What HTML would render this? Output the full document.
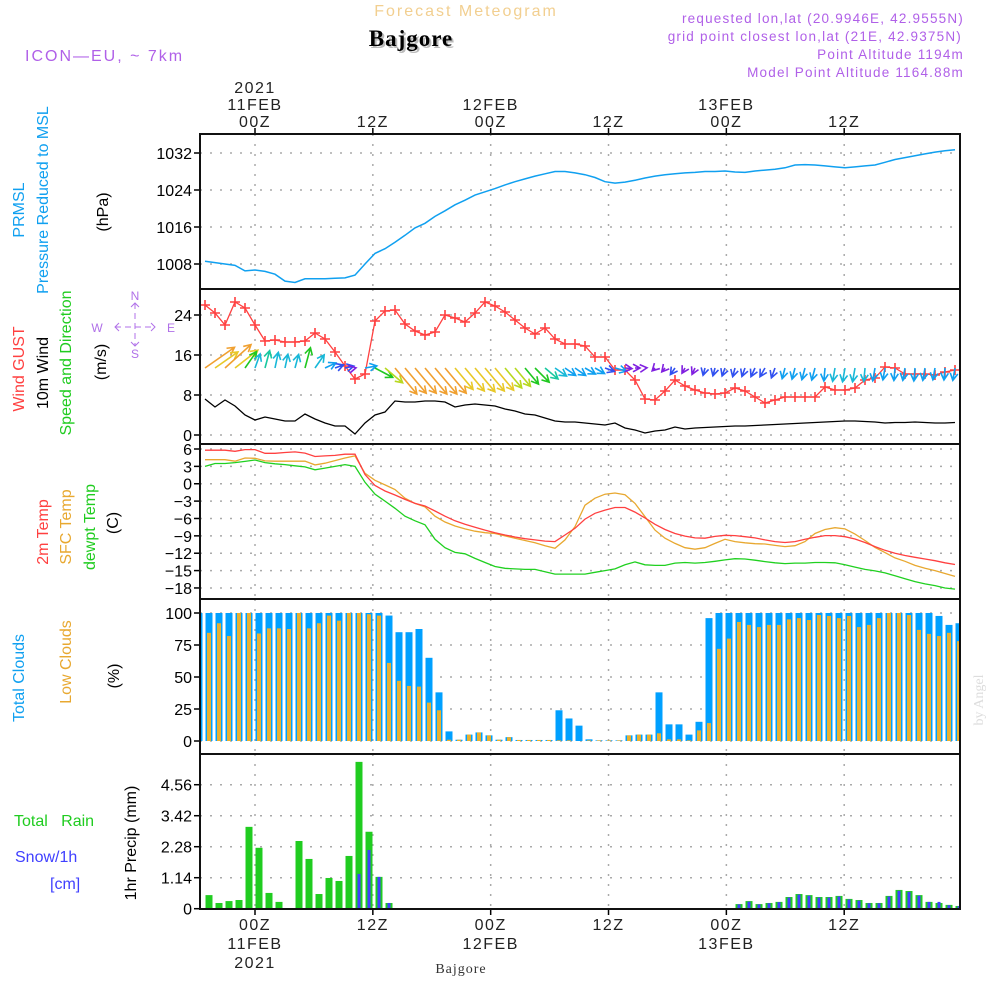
<!DOCTYPE html>
<html><head><meta charset="utf-8"><style>
html,body{margin:0;padding:0;background:#fff;}
svg{display:block;font-family:"Liberation Sans",sans-serif;}
</style></head><body>
<svg id="chart" width="1000" height="1000" viewBox="0 0 1000 1000" xmlns="http://www.w3.org/2000/svg">
<rect width="1000" height="1000" fill="#fff"/>
<text x="466" y="16" text-anchor="middle" font-size="16" fill="#f2cf90" letter-spacing="2">Forecast Meteogram</text>
<text x="413" y="48" text-anchor="middle" font-size="23" font-weight="bold" fill="#bbb" font-family="Liberation Serif,serif" letter-spacing="1">Bajgore</text>
<text x="411" y="46" text-anchor="middle" font-size="23" font-weight="bold" fill="#000" font-family="Liberation Serif,serif" letter-spacing="1">Bajgore</text>
<text x="25" y="61" font-size="16" fill="#b060e8" letter-spacing="2">ICON—EU, ~ 7km</text>
<g font-size="13.5" fill="#b060e8" text-anchor="end" letter-spacing="1.2">
<text x="964" y="23">requested lon,lat (20.9946E, 42.9555N)</text>
<text x="962" y="41">grid point closest lon,lat (21E, 42.9375N)</text>
<text x="964" y="59">Point Altitude 1194m</text>
<text x="964" y="77">Model Point Altitude 1164.88m</text>
</g>
<g id="grid"></g>
<g id="marks"></g>
<g id="frames"></g>
<g id="labels"></g>

<g font-size="16">
<text transform="translate(24,210) rotate(-90)" text-anchor="middle" fill="#10a0f0">PRMSL</text>
<text transform="translate(48,200) rotate(-90)" text-anchor="middle" fill="#10a0f0">Pressure Reduced to MSL</text>
<text transform="translate(108,212) rotate(-90)" text-anchor="middle" fill="#000">(hPa)</text>
<text transform="translate(24,369) rotate(-90)" text-anchor="middle" fill="#ff4040">Wind GUST</text>
<text transform="translate(48,373) rotate(-90)" text-anchor="middle" fill="#000">10m Wind</text>
<text transform="translate(71,363) rotate(-90)" text-anchor="middle" fill="#20cc20">Speed and Direction</text>
<text transform="translate(106,362) rotate(-90)" text-anchor="middle" fill="#000">(m/s)</text>
<text transform="translate(48,532) rotate(-90)" text-anchor="middle" fill="#ff4040">2m Temp</text>
<text transform="translate(71,527) rotate(-90)" text-anchor="middle" fill="#e8a830">SFC Temp</text>
<text transform="translate(95,527) rotate(-90)" text-anchor="middle" fill="#20cc20">dewpt Temp</text>
<text transform="translate(118,523) rotate(-90)" text-anchor="middle" fill="#000">(C)</text>
<text transform="translate(24,678) rotate(-90)" text-anchor="middle" fill="#10a0f0">Total Clouds</text>
<text transform="translate(71,662) rotate(-90)" text-anchor="middle" fill="#e8a830">Low Clouds</text>
<text transform="translate(119,676) rotate(-90)" text-anchor="middle" fill="#000">(%)</text>
<text x="14" y="826" fill="#20cc20" xml:space="preserve">Total   Rain</text>
<text x="15" y="862" fill="#4040ff">Snow/1h</text>
<text x="50" y="889" fill="#4040ff">[cm]</text>
<text transform="translate(136,843) rotate(-90)" text-anchor="middle" fill="#000">1hr Precip (mm)</text>
</g>
<g stroke="#b070e8" stroke-width="1" fill="#b070e8" font-size="12">
<line x1="115" y1="327" x2="155" y2="327" stroke-dasharray="6,4"/>
<line x1="135" y1="303" x2="135" y2="346" stroke-dasharray="6,4"/>
<polyline points="119,323 115,327 119,331" fill="none"/>
<polyline points="151,323 155,327 151,331" fill="none"/>
<polyline points="131,307 135,303 139,307" fill="none"/>
<polyline points="131,342 135,346 139,342" fill="none"/>
<text x="135" y="300" text-anchor="middle" stroke="none">N</text>
<text x="135" y="358" text-anchor="middle" stroke="none">S</text>
<text x="97" y="332" text-anchor="middle" stroke="none">W</text>
<text x="171" y="332" text-anchor="middle" stroke="none">E</text>
</g>
<text transform="translate(983,700) rotate(-90)" text-anchor="middle" font-size="14" fill="#ddd" font-family="Liberation Serif,serif">by Angel</text>
<text x="461" y="973" text-anchor="middle" font-size="14" fill="#333" font-family="Liberation Serif,serif" letter-spacing="1">Bajgore</text>
</svg>
<script>
// ---- data (index = model step, hourly) ----
const timeTickHours = [0, 12, 24, 36, 48, 60];
const timeTickTop = [["2021","11FEB","00Z"],["12Z"],["12FEB","00Z"],["12Z"],["13FEB","00Z"],["12Z"]];
const timeTickBottom = [["00Z","11FEB","2021"],["12Z"],["00Z","12FEB"],["12Z"],["00Z","13FEB"],["12Z"]];
const pressTicks = [1032, 1024, 1016, 1008];
const windTicks = [24, 16, 8, 0];
const tempTicks = [6, 3, 0, -3, -6, -9, -12, -15, -18];
const cloudTicks = [100, 75, 50, 25, 0];
const precipTicks = [4.56, 3.42, 2.28, 1.14, 0];

const pressure = [1008.6,1008.3,1008.0,1007.7,1006.5,1006.7,1006.4,1005.8,1004.3,1004.0,1004.8,1004.8,1004.8,1004.9,1005.0,1005.6,1008.0,1010.3,1011.3,1012.7,1014.2,1015.8,1016.8,1018.3,1019.5,1020.8,1021.8,1022.9,1023.6,1024.3,1025.1,1025.8,1026.4,1027.0,1027.5,1028.0,1028.0,1027.7,1027.3,1026.7,1025.8,1025.5,1025.7,1026.1,1026.6,1027.0,1027.3,1027.5,1027.7,1027.8,1028.0,1028.0,1028.1,1027.9,1027.8,1028.1,1028.3,1028.5,1028.8,1029.4,1029.5,1029.4,1029.2,1029.0,1028.8,1029.0,1029.2,1029.4,1030.0,1030.6,1031.0,1031.4,1031.8,1032.2,1032.5,1032.7];
const gust = [26,24.4,22,26.6,25.4,22,18.8,19,18.6,18.6,18.8,20.4,19.2,16.6,13.8,11.2,12.2,22.8,24.8,25,22.2,20.8,20,20.6,24,23.4,22.6,24.4,26.6,25.8,24.6,23,21.4,20.2,21.4,19.2,18.2,18.2,17.8,15.6,15.6,13,13,11,7.2,7,8.8,11,9.8,9,8.4,8.2,8.4,9.4,8.8,7.6,6.4,7,7.6,7.6,7.6,7.6,9.6,9,9,9.4,11,11.4,13.6,13.4,12.2,12.2,12.2,12,12.6,13];
const wind = [7.2,5.6,7,5.8,4,3,3.6,3.2,2.8,2.8,4.2,3.2,2.4,1.8,1.8,0.2,2.4,4,4.6,6.8,6.6,6.6,6.8,6.8,6.6,5.6,6,6.2,6,5.8,5.2,4.8,4.2,4,3.4,2.8,2.6,2.6,2.4,2.2,2,2.4,1.4,1,0.4,0.8,1,1.6,1.2,1.4,1.5,1.6,1.7,1.8,1.8,1.9,2,2.1,2.2,2.3,2.4,2.5,2.6,2.7,2.8,2.8,2.7,2.6,2.4,2.5,2.5,2.6,2.5,2.4,2.4,2.5];
const windDir = [235,235,228,232,215,200,195,192,192,195,195,215,245,250,258,258,260,298,310,320,320,320,320,320,320,320,320,320,320,320,320,320,320,315,310,305,305,305,300,300,290,285,275,270,265,45,40,35,30,25,15,15,20,15,20,25,30,20,15,15,15,15,5,10,10,10,5,10,10,5,10,5,10,10,5,10];
const temp2m = [5.8,5.8,5.8,5.6,5.9,5.9,5.25,5.25,5.4,5.5,5.3,4.7,4.8,4.9,5.1,5.1,1.6,-0.3,-1.25,-1.95,-2.7,-3.4,-3.85,-4.7,-5.6,-6.4,-7,-7.5,-8,-8.45,-8.85,-9.2,-9.5,-9.7,-9.9,-10,-8.85,-7.7,-6.1,-5.1,-4.55,-4.1,-4.1,-4.9,-5.9,-7.0,-7.9,-8.6,-9.05,-9.35,-9.4,-9.1,-8.9,-8.95,-9.15,-9.35,-9.7,-10.0,-10.15,-10.0,-9.6,-9.25,-8.95,-8.95,-9.15,-9.55,-10.15,-10.85,-11.5,-12.0,-12.4,-12.7,-13.0,-13.3,-13.65,-13.95];
const tempSfc = [4.15,4.15,4.15,3.9,4.45,4.4,3.95,3.9,3.9,3.9,3.9,3.25,3.55,4.0,4.45,4.8,1.8,0.6,-0.2,-1.0,-2.5,-3.4,-4.0,-5.6,-6.6,-7.3,-7.8,-8.2,-8.45,-8.6,-9.0,-9.4,-9.8,-10.2,-10.7,-11.15,-9.7,-7.4,-3.7,-2.5,-1.8,-1.6,-1.9,-3.4,-5.7,-8.0,-9.4,-10.3,-11.05,-11.3,-11.05,-10.3,-9.6,-10.0,-10.2,-10.35,-10.4,-10.65,-10.85,-10.7,-10.0,-8.6,-7.9,-7.6,-7.8,-8.7,-9.8,-11.0,-11.9,-12.8,-13.4,-14.1,-14.6,-15.0,-15.5,-16.0];
const dewpt = [3.0,3.5,3.5,3.65,3.85,4.1,3.65,3.45,3.3,3.1,2.9,2.4,2.7,3.0,3.3,3.0,0.25,-1.8,-3.0,-4.25,-5.6,-6.4,-7.1,-9.6,-11.05,-11.85,-12.1,-12.9,-13.6,-14.3,-14.6,-14.7,-14.8,-14.8,-15.2,-15.6,-15.6,-15.6,-15.6,-15.3,-15.0,-14.7,-14.0,-13.5,-14.0,-14.1,-14.1,-13.7,-13.6,-13.7,-13.6,-13.4,-13.15,-12.95,-13.0,-13.2,-13.45,-13.65,-13.8,-13.7,-13.7,-13.6,-13.6,-13.65,-14.0,-14.4,-14.8,-15.05,-15.4,-15.9,-16.4,-16.9,-17.3,-17.6,-18.0,-18.2];
const cloudTotal = [100,100,100,100,100,100,100,100,100,100,100,100,100,100,100,100,100,100,100,98,85,85,87.5,65,38,7.5,1,5,6.7,4.4,1,3,0.8,0.8,0.8,0.8,24,17.6,12,1.3,0.5,0.5,0.5,4.4,5,5,38,13,13,5,15,96,100,100,100,100,100,100,100,100,100,100,100,100,100,100,100,100,100,100,100,100,100,100,97.7,90.7,92];
const cloudLow = [78,84.5,92,82,100,100,84,88,88,87.5,100,88,92,98,94,100,100,99,98,61,47,43,42.5,30,24,1,1,5,6.7,4.4,1,3,0.8,0.8,0.8,0.8,0.5,0.5,0,0.5,0.5,0.5,0.5,4.4,5,5,6,1.3,1.3,0.5,8.3,14,72,80,93,90.7,89,90.7,90.7,95,96,94.5,98.4,97.7,96,97.7,89,90.7,96,100,100,98.4,86.8,83.7,82,84.5,78];
const rain = [0.5,0.21,0.28,0.32,3.01,2.24,0.58,0.25,0,2.49,1.83,0.54,1.13,1.02,1.94,5.4,2.83,1.17,0.21,0,0,0,0,0,0,0,0,0,0,0,0,0,0,0,0,0,0,0,0,0,0,0,0,0,0,0,0,0,0,0,0,0,0,0.17,0.28,0.17,0.21,0.25,0.43,0.54,0.5,0.43,0.43,0.47,0.36,0.32,0.21,0.21,0.47,0.69,0.65,0.5,0.25,0.21,0.14,0.1];
const snow = [0,0,0,0,0,0,0,0,0,0,0,0,0,0,0,1.28,2.16,1.17,0.21,0,0,0,0,0,0,0,0,0,0,0,0,0,0,0,0,0,0,0,0,0,0,0,0,0,0,0,0,0,0,0,0,0,0,0.16,0.26,0.16,0.2,0.24,0.41,0.52,0.48,0.41,0.41,0.45,0.34,0.3,0.2,0.2,0.45,0.66,0.62,0.48,0.25,0.25,0.13,0.09];

const X0 = 200, X1 = 960;
const xStep = i => 205 + 10 * i;
const xBar = i => 209 + 10 * i;
const xHour = h => 255 + h * 9.82;
const yP = v => 153 + (1032 - v) * 4.625;
const yW = v => 435 - v * 5;
const yT = v => 449 + (6 - v) * 5.79;
const yC = v => 741 - v * 1.28;
const yR = v => 908.7 - v * 27.19;
const panels = [[134,289],[289,444],[444,599],[599,754],[754,909]];

const NS = "http://www.w3.org/2000/svg";
function mk(tag, attrs, parent){ const e=document.createElementNS(NS,tag); for(const k in attrs) e.setAttribute(k,attrs[k]); parent.appendChild(e); return e; }
const G = document.getElementById('grid'), M = document.getElementById('marks'), F = document.getElementById('frames'), L = document.getElementById('labels');

const defs = mk('defs',{},document.getElementById('chart'));
panels.forEach((p,k)=>{ const c=mk('clipPath',{id:'clip'+k},defs); mk('rect',{x:X0+1,y:p[0]+1,width:X1-X0-2,height:p[1]-p[0]-2},c); });

function hgrid(ticks, yf, k, fmt){
  ticks.forEach(v=>{
    const y=yf(v);
    const gl=mk('line',{x1:X0,x2:X1,y1:y,y2:y,stroke:'#aaa','stroke-width':1.5,'stroke-dasharray':'2,8'},G);
    
    
    const tk=mk('line',{x1:X0-6,x2:X0,y1:y,y2:y,stroke:'#000','stroke-width':1.5},F);
    
    
    const t=mk('text',{x:X0-8,y:y+6,'text-anchor':'end','font-size':16,fill:'#000'},L);
    t.textContent = fmt ? fmt(v) : String(v).replace('-','−');
    
    
  });
}
hgrid(pressTicks,yP,0); hgrid(windTicks,yW,1); hgrid(tempTicks,yT,2); hgrid(cloudTicks,yC,3); hgrid(precipTicks,yR,4,v=>v===0?'0':v.toFixed(2));
timeTickHours.forEach(h=>{
  const x=xHour(h);
  panels.forEach(p=>{
    const vl=mk('line',{x1:x,x2:x,y1:p[0],y2:p[1],stroke:'#aaa','stroke-width':1.5,'stroke-dasharray':'2,8'},G);
    
    
  });
  const t1=mk('line',{x1:x,x2:x,y1:128,y2:134,stroke:'#000','stroke-width':1.5},F);
  
  
  const t2=mk('line',{x1:x,x2:x,y1:909,y2:915,stroke:'#000','stroke-width':1.5},F);
  
  
});
timeTickTop.forEach((lines,k)=>{
  const x=xHour(timeTickHours[k]);
  lines.forEach((s,j)=>{
    const t=mk('text',{x:x,y:127-(lines.length-1-j)*17,'text-anchor':'middle','font-size':16,fill:'#222','letter-spacing':1.5},L);
    t.textContent=s;
    
    
  });
});
timeTickBottom.forEach((lines,k)=>{
  const x=xHour(timeTickHours[k]);
  lines.forEach((s,j)=>{
    const t=mk('text',{x:x,y:930+j*19,'text-anchor':'middle','font-size':16,fill:'#222','letter-spacing':1.5},L);
    t.textContent=s;
    
    
  });
});

function line(arr, xf, yf, color, k, name, w){
  const pts=arr.map((v,i)=>xf(i).toFixed(1)+','+yf(v).toFixed(1)).join(' ');
  const p=mk('polyline',{points:pts,fill:'none',stroke:color,'stroke-width':w||1.3,'clip-path':'url(#clip'+k+')'},M);
  
  
}
line(pressure,xStep,yP,'#10a0f0',0,'pressure-line',1.5);
line(wind,xStep,yW,'#000',1,'wind-speed-line');
line(gust,xStep,yW,'#ff4040',1,'gust-line');
gust.forEach((v,i)=>{
  const x=xStep(i), y=yW(v);
  const g=mk('path',{d:`M${x-5},${y}H${x+5}M${x},${y-5}V${y+5}`,stroke:'#ff4040','stroke-width':1.6,'clip-path':'url(#clip1)'},M);
  
  
});
function arrowColor(s){
  if(s>=6.3) return '#f0a030'; if(s>=5.3) return '#e8c828'; if(s>=4.6) return '#b8d820';
  if(s>=3.9) return '#20c820'; if(s>=3.3) return '#18c8a0'; if(s>=2.7) return '#18b8d8';
  if(s>=2.2) return '#10a0f0'; if(s>=1.5) return '#3050f0'; return '#8020e0';
}
wind.forEach((s,i)=>{
  const d=windDir[i]*Math.PI/180, len=s*5;
  const x0=xStep(i), y0=368;
  const x1=x0-Math.sin(d)*len, y1=y0+Math.cos(d)*len;
  const a=Math.atan2(y1-y0,x1-x0), hl=8;
  const h1x=x1-hl*Math.cos(a-0.5), h1y=y1-hl*Math.sin(a-0.5);
  const h2x=x1-hl*Math.cos(a+0.5), h2y=y1-hl*Math.sin(a+0.5);
  const ar=mk('path',{d:`M${x0},${y0}L${x1},${y1}M${h1x},${h1y}L${x1},${y1}L${h2x},${h2y}`,fill:'none',stroke:arrowColor(s),'stroke-width':1.6,'clip-path':'url(#clip1)'},M);
  
  
});
line(dewpt,xStep,yT,'#20d020',2,'dewpoint-line');
line(tempSfc,xStep,yT,'#e8a830',2,'sfc-temp-line');
line(temp2m,xStep,yT,'#ff4040',2,'temp-2m-line');
cloudTotal.forEach((v,i)=>{
  const x=xBar(i-1);
  const b=mk('rect',{x:x-3.5,y:yC(v),width:7,height:Math.max(0,yC(0)-yC(v)),fill:'#00a0ff','clip-path':'url(#clip3)'},M);
  
  
});
cloudLow.forEach((v,i)=>{
  const x=xBar(i-1);
  const b=mk('rect',{x:x-2,y:yC(v),width:4,height:Math.max(0,yC(0)-yC(v)),fill:'#e8b030','clip-path':'url(#clip3)'},M);
  
  
});
rain.forEach((v,i)=>{
  if(v<=0) return;
  const x=xBar(i);
  const b=mk('rect',{x:x-3.5,y:yR(v),width:7,height:yR(0)-yR(v),fill:'#20cc20','clip-path':'url(#clip4)'},M);
  
  
});
snow.forEach((v,i)=>{
  if(v<=0) return;
  const x=xBar(i);
  const b=mk('rect',{x:x-1.5,y:yR(v),width:3,height:yR(0)-yR(v),fill:'#4040ff','clip-path':'url(#clip4)'},M);
  
  
});
panels.forEach(p=>{
  const r=mk('rect',{x:X0,y:p[0],width:X1-X0,height:p[1]-p[0],fill:'none',stroke:'#111','stroke-width':2},F);
  
  
});
</script>
</body></html>
